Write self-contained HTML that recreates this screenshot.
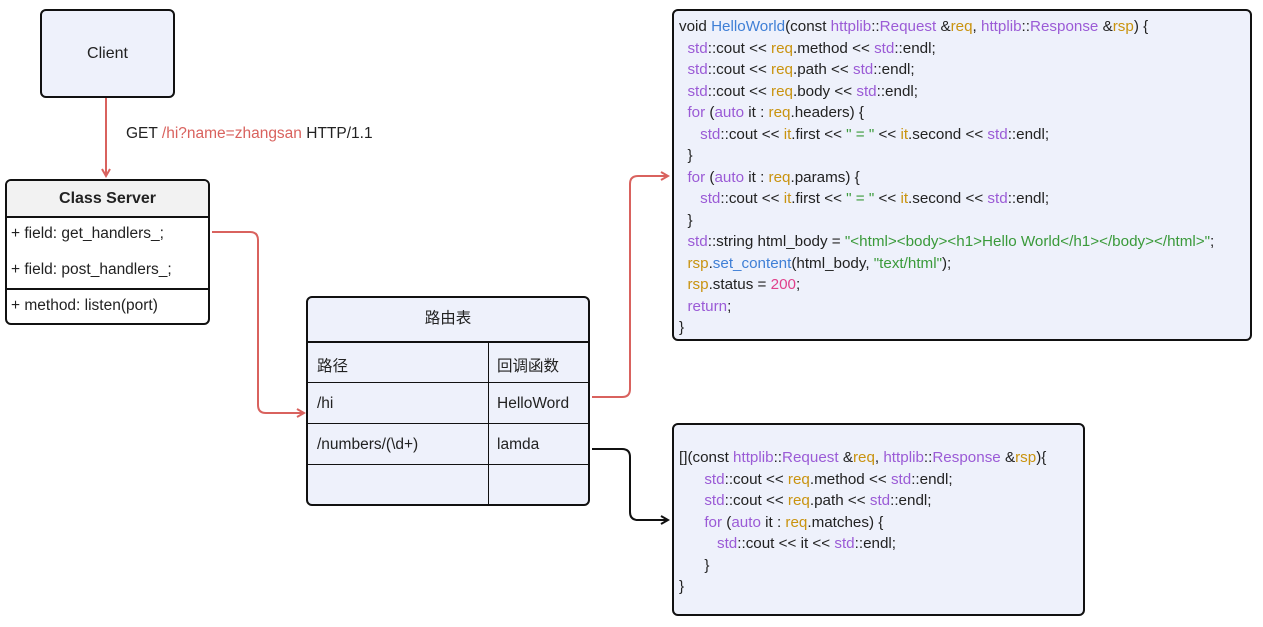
<!DOCTYPE html>
<html><head><meta charset="utf-8"><style>
body{margin:0;width:1263px;height:627px;background:#fff;position:relative;font-family:"Liberation Sans","Noto Sans CJK SC",sans-serif;color:#222;overflow:hidden}
.box{position:absolute;border:2px solid #111;border-radius:6px;background:#eef1fb;box-sizing:border-box}
.code{font-size:15.2px;line-height:21.5px;white-space:pre;position:absolute}
.p{color:#9b5bd6}.b{color:#3f7fd6}.o{color:#c9930f}.g{color:#3a9a3a}.k{color:#e0408a}
.t{position:absolute;font-size:15.5px}
</style></head><body>
<svg width="1263" height="627" style="position:absolute;left:0;top:0">
<defs>
<marker id="ar" markerWidth="10" markerHeight="10" refX="8" refY="5" orient="auto" markerUnits="userSpaceOnUse"><path d="M1,1 L8,5 L1,9" fill="none" stroke="#d9625e" stroke-width="2"/></marker>
<marker id="ab" markerWidth="10" markerHeight="10" refX="8" refY="5" orient="auto" markerUnits="userSpaceOnUse"><path d="M1,1 L8,5 L1,9" fill="none" stroke="#111" stroke-width="2"/></marker>
</defs>
<g fill="none" stroke-width="2">
<path d="M106,98 V176" stroke="#d9625e" marker-end="url(#ar)"/>
<path d="M212,232 H250 Q258,232 258,240 V405 Q258,413 266,413 H304" stroke="#d9625e" marker-end="url(#ar)"/>
<path d="M592,397 H622 Q630,397 630,389 V184 Q630,176 638,176 H668" stroke="#d9625e" marker-end="url(#ar)"/>
<path d="M592,449 H622 Q630,449 630,457 V512 Q630,520 638,520 H668" stroke="#111" marker-end="url(#ab)"/>
</g>
</svg>
<div class="box" style="left:40px;top:9px;width:135px;height:89px;display:flex;align-items:center;justify-content:center;font-size:16px">Client</div>
<div class="t" style="left:126px;top:125px">GET <span style="color:#d9625e">/hi?name=zhangsan</span> HTTP/1.1</div>
<div class="box" style="left:5px;top:179px;width:205px;height:146px;background:#fff;overflow:hidden">
<div style="height:35px;background:#f2f2f2;border-bottom:2px solid #111;text-align:center;line-height:35px;font-weight:bold;font-size:16px">Class Server</div>
<div class="t" style="left:4px;top:44px">+ field: get_handlers_;</div>
<div class="t" style="left:4px;top:80px">+ field: post_handlers_;</div>
<div style="position:absolute;left:0;right:0;top:107px;border-top:2px solid #111"></div>
<div class="t" style="left:4px;top:116px">+ method: listen(port)</div>
</div>
<div class="box" style="left:306px;top:296px;width:284px;height:210px;overflow:hidden">
<div class="t" style="left:0;width:280px;text-align:center;top:8px">路由表</div>
<div style="position:absolute;left:0;right:0;top:43px;border-top:2px solid #111"></div>
<div style="position:absolute;left:0;right:0;top:84px;border-top:1px solid #111"></div>
<div style="position:absolute;left:0;right:0;top:125px;border-top:1px solid #111"></div>
<div style="position:absolute;left:0;right:0;top:166px;border-top:1px solid #111"></div>
<div style="position:absolute;left:180px;top:44px;bottom:0;border-left:1px solid #111"></div>
<div class="t" style="left:9px;top:56px">路径</div><div class="t" style="left:189px;top:56px">回调函数</div>
<div class="t" style="left:9px;top:97px">/hi</div><div class="t" style="left:189px;top:97px">HelloWord</div>
<div class="t" style="left:9px;top:138px">/numbers/(\d+)</div><div class="t" style="left:189px;top:138px">lamda</div>
</div>
<div class="box" style="left:672px;top:9px;width:580px;height:332px">
<div class="code" style="left:5px;top:5px">void <span class="b">HelloWorld</span>(const <span class="p">httplib</span>::<span class="p">Request</span> &amp;<span class="o">req</span>, <span class="p">httplib</span>::<span class="p">Response</span> &amp;<span class="o">rsp</span>) {
  <span class="p">std</span>::cout &lt;&lt; <span class="o">req</span>.method &lt;&lt; <span class="p">std</span>::endl;
  <span class="p">std</span>::cout &lt;&lt; <span class="o">req</span>.path &lt;&lt; <span class="p">std</span>::endl;
  <span class="p">std</span>::cout &lt;&lt; <span class="o">req</span>.body &lt;&lt; <span class="p">std</span>::endl;
  <span class="p">for</span> (<span class="p">auto</span> it : <span class="o">req</span>.headers) {
     <span class="p">std</span>::cout &lt;&lt; <span class="o">it</span>.first &lt;&lt; <span class="g">" = "</span> &lt;&lt; <span class="o">it</span>.second &lt;&lt; <span class="p">std</span>::endl;
  }
  <span class="p">for</span> (<span class="p">auto</span> it : <span class="o">req</span>.params) {
     <span class="p">std</span>::cout &lt;&lt; <span class="o">it</span>.first &lt;&lt; <span class="g">" = "</span> &lt;&lt; <span class="o">it</span>.second &lt;&lt; <span class="p">std</span>::endl;
  }
  <span class="p">std</span>::string html_body = <span class="g">"&lt;html&gt;&lt;body&gt;&lt;h1&gt;Hello World&lt;/h1&gt;&lt;/body&gt;&lt;/html&gt;"</span>;
  <span class="o">rsp</span>.<span class="b">set_content</span>(html_body, <span class="g">"text/html"</span>);
  <span class="o">rsp</span>.status = <span class="k">200</span>;
  <span class="p">return</span>;
}</div></div>
<div class="box" style="left:672px;top:423px;width:413px;height:193px">
<div class="code" style="left:5px;top:22px">[](const <span class="p">httplib</span>::<span class="p">Request</span> &amp;<span class="o">req</span>, <span class="p">httplib</span>::<span class="p">Response</span> &amp;<span class="o">rsp</span>){
      <span class="p">std</span>::cout &lt;&lt; <span class="o">req</span>.method &lt;&lt; <span class="p">std</span>::endl;
      <span class="p">std</span>::cout &lt;&lt; <span class="o">req</span>.path &lt;&lt; <span class="p">std</span>::endl;
      <span class="p">for</span> (<span class="p">auto</span> it : <span class="o">req</span>.matches) {
         <span class="p">std</span>::cout &lt;&lt; it &lt;&lt; <span class="p">std</span>::endl;
      }
}</div></div>
</body></html>
